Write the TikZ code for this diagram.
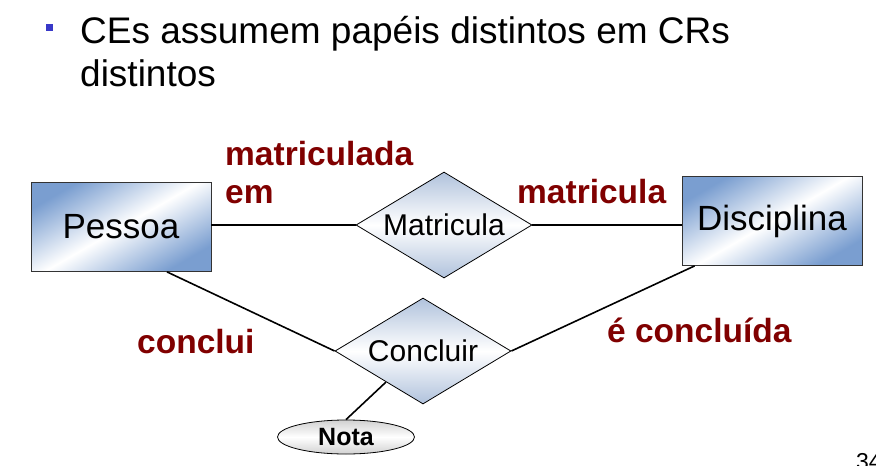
\documentclass[tikz,border=0pt]{standalone}
\usepackage{fontspec}
\setmainfont{Liberation Sans}
\usetikzlibrary{shapes.geometric}
\definecolor{bulletblue}{RGB}{56,56,200}
\definecolor{rolered}{RGB}{128,0,0}
\definecolor{boxblue}{RGB}{122,158,208}
\definecolor{relblue}{RGB}{176,194,220}
\begin{document}
\begin{tikzpicture}[x=1pt,y=-1pt]
\tikzstyle{entity}=[rectangle,draw=black!80,line width=0.8pt,left color=boxblue,right color=boxblue,middle color=white,shading angle=30,minimum width=180pt,minimum height=89pt,inner sep=0pt,font=\fontsize{35}{40}\selectfont]
\tikzstyle{relation}=[diamond,draw=black,line width=0.8pt,top color=relblue,bottom color=relblue,middle color=white,aspect=1.65,minimum width=176pt,minimum height=106pt,inner sep=0pt,font=\fontsize{30}{36}\selectfont]
\tikzstyle{attrib}=[ellipse,draw=black,line width=0.8pt,top color=black!18,bottom color=black!18,middle color=white,minimum width=137pt,minimum height=34pt,inner sep=0pt,font=\fontsize{25}{28}\selectfont\bfseries]
\tikzstyle{role}=[text=rolered,font=\fontsize{33.5}{38}\selectfont\bfseries,anchor=base west,inner sep=0pt]
\tikzstyle{heading}=[anchor=base west,inner sep=0pt,font=\fontsize{37}{44}\selectfont]
\tikzstyle{link}=[draw,line width=1.6pt]
\useasboundingbox (0,0) rectangle (876,466);
% heading
\node[fill=bulletblue,minimum size=7pt,inner sep=0pt] (bullet) at (49,27) {};
\node[heading] (heading1) at (80,43) {CEs assumem papéis distintos em CRs};
\node[heading] (heading2) at (80,86) {distintos};
% entities and relationships
\node[entity] (pessoa) at (121,227) {Pessoa};
\node[entity] (disciplina) at (772,221) {Disciplina};
\node[relation] (matricula) at (444,225) {Matricula};
\node[relation] (concluir) at (423,351) {Concluir};
\node[attrib] (nota) at (346,437) {Nota};
\path[link] (matricula.west -| pessoa.east) -- (matricula.west);
\path[link] (matricula.east) -- (matricula.east -| disciplina.west);
\path[link] ([xshift=46pt]pessoa.south) -- (concluir.west);
\path[link] ([xshift=13pt]disciplina.south west) -- (concluir.east);
\path[link] (nota.north) -- (concluir.-140);
% roles
\node[role] (rmatriculada) at (225,165) {matriculada};
\node[role] (rem) at (225,203) {em};
\node[role] (rmatricula) at (517,203) {matricula};
\node[role] (rconclui) at (137,353) {conclui};
\node[role] (rconcluida) at (607,342) {é concluída};
\node[anchor=base west,inner sep=0pt,font=\fontsize{23}{26}\selectfont] (pagenum) at (856,469) {34};
\end{tikzpicture}
\end{document}
